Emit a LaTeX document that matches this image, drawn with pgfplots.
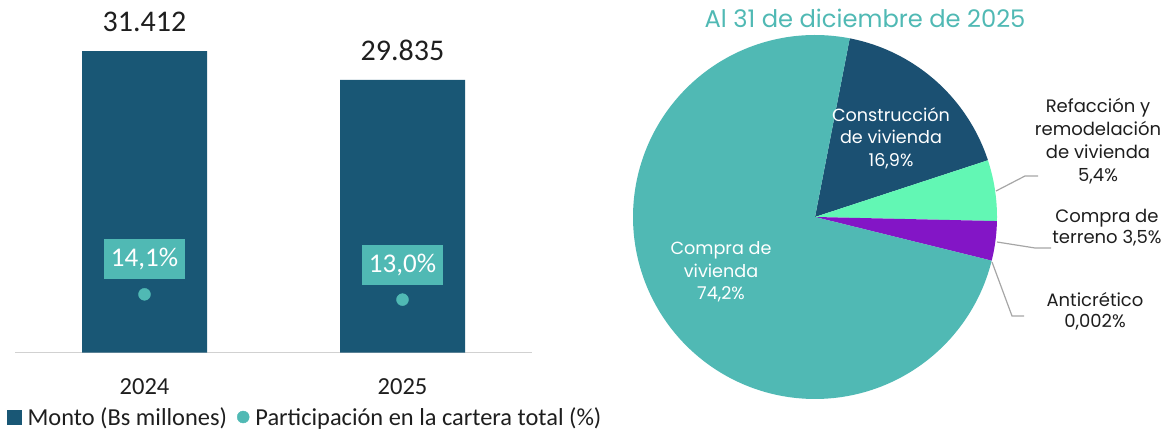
\documentclass[border=0pt]{standalone}
\usepackage{pgfplots}
\pgfplotsset{compat=1.18}
\usepackage{fontspec}
\setmainfont{Carlito}
\newfontfamily\pop{Poppins}
\definecolor{barblue}{RGB}{25,87,117}
\definecolor{teal1}{RGB}{80,185,180}
\definecolor{pieblue}{RGB}{27,80,114}
\definecolor{mint}{RGB}{98,247,180}
\definecolor{purp}{RGB}{131,21,198}
\definecolor{txt}{RGB}{30,30,30}
\definecolor{lead}{RGB}{166,166,166}
\begin{document}
\begin{tikzpicture}[x=1pt,y=1pt]
\path[use as bounding box] (0,0) rectangle (1167,430);
% ---------- bars ----------
\begin{axis}[at={(15.5pt,77.3pt)}, anchor=south west, scale only axis,
  width=516pt, height=312.5pt, xmin=-0.5, xmax=1.5, ymin=15000, ymax=32000,
  axis x line*=bottom, axis y line=none,
  x axis line style={draw=black!18, line width=1.2pt, -},
  xtick={0,1}, xticklabels={2024,2025}, major tick length=0pt, ytick=\empty,
  xticklabel style={font=\fontsize{24.5}{27}\selectfont, text=txt, yshift=-22pt},
  clip=false,
  legend style={at={(-0.0165,-0.2058)}, anchor=west, draw=none, fill=none,
    legend columns=2, font=\fontsize{24.4}{27}\selectfont, text=txt,
    /tikz/every even column/.append style={column sep=8pt}, inner sep=0pt},
  legend cell align=left]
\addplot[ybar, bar width=125pt, bar shift=0pt, fill=barblue, draw=none, forget plot,
  nodes near coords, point meta=explicit symbolic,
  every node near coord/.append style={font=\fontsize{30}{32}\selectfont, text=txt, anchor=south, inner sep=0pt, yshift=19pt}]
  coordinates {(0,31412) [31.412] (1,29835) [29.835]};
\addlegendimage{legend image code/.code={\fill[barblue] (0pt,-7pt) rectangle (14pt,7pt); \path (18pt,0pt);}}
\addlegendentry{Monto (Bs millones)}
\addlegendimage{legend image code/.code={\fill[teal1] (6pt,0pt) circle (6pt); \path (16pt,0pt);}}
\addlegendentry{Participación en la cartera total (\%)}
\end{axis}
% ---------- dots ----------
\begin{axis}[at={(15.5pt,77.3pt)}, anchor=south west, scale only axis,
  width=516pt, height=312.5pt, xmin=-0.5, xmax=1.5, ymin=2, ymax=66.8,
  hide axis, clip=false]
\addplot[only marks, mark=*, mark size=6pt, color=teal1,
  nodes near coords, point meta=explicit symbolic,
  every node near coord/.append style={font=\fontsize{27}{28}\selectfont, text=white, fill=teal1, anchor=center, yshift=35pt, inner xsep=7pt, minimum height=40pt}]
  coordinates {(0,14.1) [14,1\%] (1,13.0) [13,0\%]};
\end{axis}
% ---------- pie ----------
\def\pA{16.9}\def\pB{5.4}\def\pC{3.5}\def\pD{0.002}\def\pE{74.2}
\pgfmathsetmacro\aO{79}
\pgfmathsetmacro\aA{\aO-3.6*\pA}
\pgfmathsetmacro\aB{\aA-3.6*\pB}
\pgfmathsetmacro\aC{\aB-3.6*\pC}
\pgfmathsetmacro\aD{\aC-3.6*\pD}
\pgfmathsetmacro\aE{\aD-3.6*\pE}
\begin{axis}[at={(815pt,213pt)}, anchor=center, scale only axis,
  width=364pt, height=364pt, xmin=-1, xmax=1, ymin=-1, ymax=1,
  hide axis, clip=false]
\addplot[fill=pieblue, draw=none, domain=\aA:\aO, samples=60] ({cos(x)},{sin(x)}) -- (axis cs:0,0) -- cycle;
\addplot[fill=mint, draw=none, domain=\aB:\aA, samples=30] ({cos(x)},{sin(x)}) -- (axis cs:0,0) -- cycle;
\addplot[fill=purp, draw=none, domain=\aC:\aB, samples=30] ({cos(x)},{sin(x)}) -- (axis cs:0,0) -- cycle;
\addplot[fill=purp, draw=none, domain=\aD:\aC, samples=2] ({cos(x)},{sin(x)}) -- (axis cs:0,0) -- cycle;
\addplot[fill=teal1, draw=none, domain=\aE:\aD, samples=240] ({cos(x)},{sin(x)}) -- (axis cs:0,0) -- cycle;
\end{axis}
\node[font=\pop\fontsize{24.2}{27}\selectfont, text=teal1] at (865,412) {Al 31 de diciembre de 2025};
\node[font=\pop\fontsize{17.6}{22.5}\selectfont, text=white, align=center] at (891,292) {Construcción\\de vivienda\\16,9\%};
\node[font=\pop\fontsize{17.6}{22.5}\selectfont, text=white, align=center] at (721,158) {Compra de\\vivienda\\74,2\%};
\node[font=\pop\fontsize{18}{23}\selectfont, text=txt, align=center] at (1098,288.5) {Refacción y\\remodelación\\de vivienda\\5,4\%};
\node[font=\pop\fontsize{18}{21}\selectfont, text=txt, align=center] at (1107,202.5) {Compra de\\terreno 3,5\%};
\node[font=\pop\fontsize{18}{21}\selectfont, text=txt, align=center] at (1095,118.5) {Anticrético\\0,002\%};
\draw[lead, line width=1.2pt] (996,239) -- (1025,254) -- (1038,254);
\draw[lead, line width=1.2pt] (997,188) -- (1035,182) -- (1051,182);
\draw[lead, line width=1.2pt] (992,168) -- (1012,114) -- (1024,114);
\end{tikzpicture}
\end{document}
